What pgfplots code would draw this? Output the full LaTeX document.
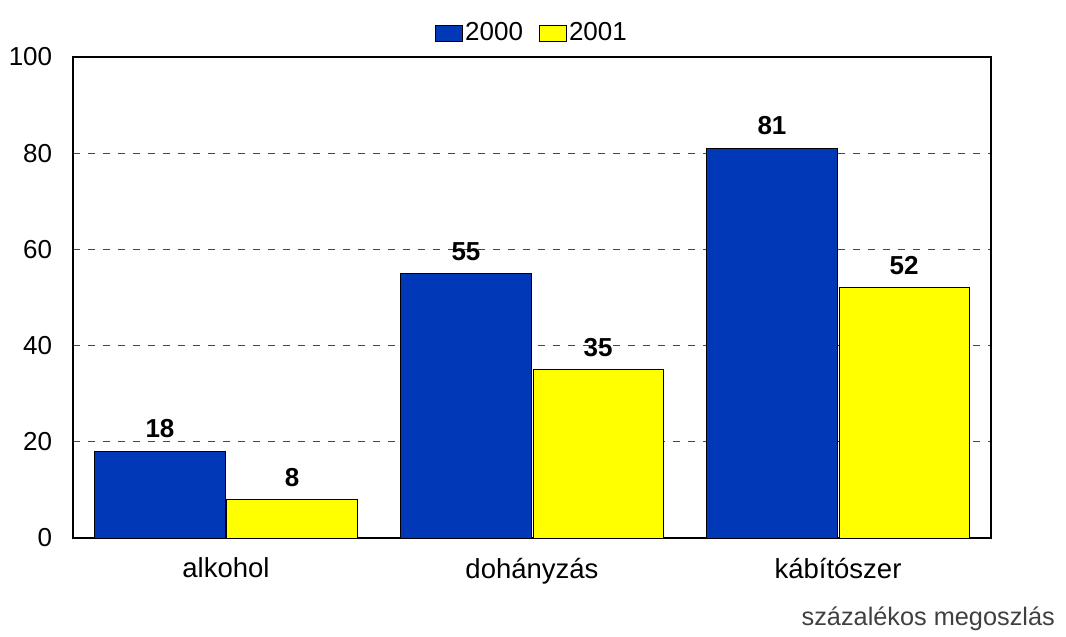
\documentclass[border=0pt]{standalone}
\usepackage{fontspec}
\setmainfont{Liberation Sans}
\usepackage{pgfplots}
\pgfplotsset{compat=1.18}
\definecolor{myblue}{RGB}{0,56,184}
\definecolor{myyellow}{RGB}{255,255,0}
\definecolor{capgray}{RGB}{64,64,64}
\definecolor{gridgray}{RGB}{70,70,70}
\begin{document}
\fontsize{26bp}{31bp}\selectfont
\begin{tikzpicture}
\begin{axis}[name=ax, scale only axis, width=918bp, height=481bp,
  xmin=-0.5, xmax=2.5, ymin=0, ymax=100,
  ytick={0,20,40,60,80,100}, xtick={0,1,2},
  xticklabels={alkohol,dohányzás,kábítószer},
  major tick length=0pt, tick style={draw=none},
  ymajorgrids, grid style={dash pattern=on 7bp off 8bp, gridgray, line width=1bp},
  axis line style={line width=1.5bp, black},
  ybar, bar width=0.425,
  /pgf/number format/assume math mode=true,
  tick label style={font=\fontsize{26bp}{31bp}\selectfont},
  yticklabel style={xshift=-12bp},
  xticklabel style={yshift=-11bp, font=\fontsize{27.5bp}{32bp}\selectfont},
  nodes near coords,
  every node near coord/.append style={font=\fontsize{26bp}{31bp}\selectfont\bfseries, yshift=4bp, /pgf/number format/assume math mode=true},
  legend style={at={(0.5,1)}, anchor=south, yshift=8bp, draw=none, fill=none,
    legend columns=2, font=\fontsize{26bp}{31bp}\selectfont,
    /tikz/every even column/.append style={column sep=14bp},
    nodes={inner sep=2bp}},
  legend image code/.code={\draw[#1, line width=1bp] (-2bp,-8bp) rectangle (25bp,8bp);},
]
\addplot[fill=myblue, draw=black, line width=1bp] coordinates {(0,18) (1,55) (2,81)};
\addplot[fill=myyellow, draw=black, line width=1bp] coordinates {(0,8) (1,35) (2,52)};
\legend{2000,2001}
\end{axis}
\node[anchor=base east, inner sep=0pt, text=capgray, font=\fontsize{25.3bp}{30bp}\selectfont] at ([shift={(64bp,-87bp)}]ax.south east) {százalékos megoszlás};
\path[use as bounding box] ([shift={(-73bp,-99bp)}]ax.south west) rectangle ([shift={(75bp,57bp)}]ax.north east);
\end{tikzpicture}
\end{document}
